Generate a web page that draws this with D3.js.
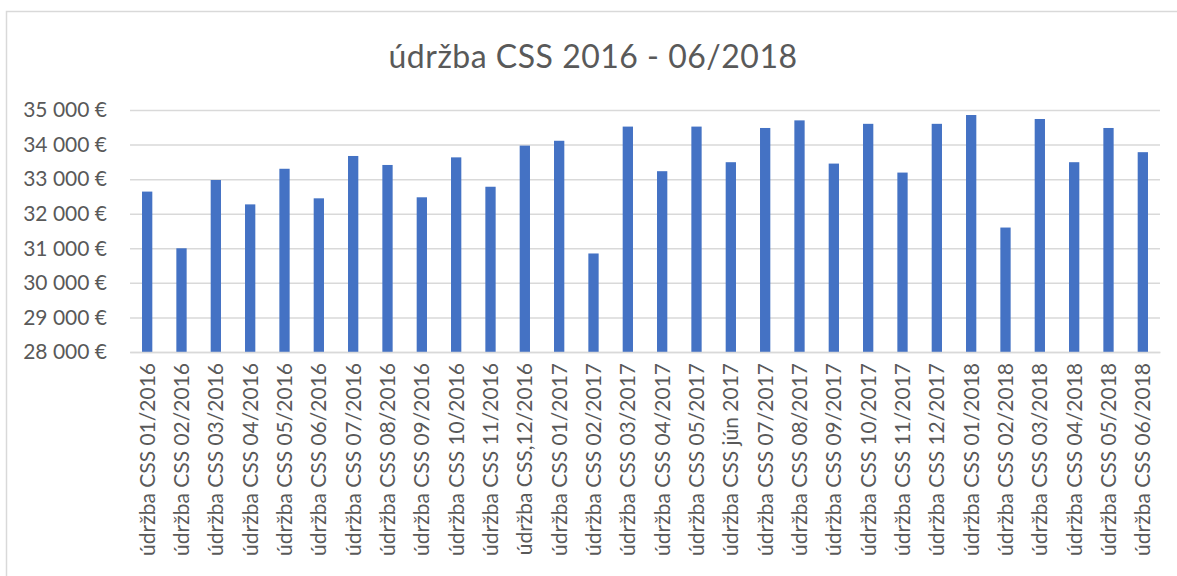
<!DOCTYPE html>
<html>
<head>
<meta charset="utf-8">
<script src="https://cdn.jsdelivr.net/npm/d3@7"></script>
<style>
  html, body { margin: 0; padding: 0; background: #ffffff; }
  svg { display: block; }
  text { font-family: Lato, "Open Sans", sans-serif; fill: #595959; }
</style>
</head>
<body>
<svg id="chart" width="1177" height="576"></svg>
<script>
const title = "údržba CSS 2016 - 06/2018";

const categories = [
  "údržba CSS 01/2016", "údržba CSS 02/2016", "údržba CSS 03/2016", "údržba CSS 04/2016",
  "údržba CSS 05/2016", "údržba CSS 06/2016", "údržba CSS 07/2016", "údržba CSS 08/2016",
  "údržba CSS 09/2016", "údržba CSS 10/2016", "údržba CSS 11/2016", "údržba CSS,12/2016",
  "údržba CSS 01/2017", "údržba CSS 02/2017", "údržba CSS 03/2017", "údržba CSS 04/2017",
  "údržba CSS 05/2017", "údržba CSS jún 2017", "údržba CSS 07/2017", "údržba CSS 08/2017",
  "údržba CSS 09/2017", "údržba CSS 10/2017", "údržba CSS 11/2017", "údržba CSS 12/2017",
  "údržba CSS 01/2018", "údržba CSS 02/2018", "údržba CSS 03/2018", "údržba CSS 04/2018",
  "údržba CSS 05/2018", "údržba CSS 06/2018"
];

const values = [
  32640, 31000, 32975, 32270, 33300, 32445, 33670, 33410,
  32475, 33630, 32780, 33970, 34110, 30850, 34520, 33230,
  34520, 33490, 34480, 34700, 33450, 34600, 33190, 34600,
  34855, 31600, 34740, 33490, 34480, 33780
];

const yTicks = [28000, 29000, 30000, 31000, 32000, 33000, 34000, 35000];
const yDomain = [28000, 35000];

const svg = d3.select("#chart");
const W = 1177, H = 576;
const plot = { left: 130, right: 1160, top: 110, bottom: 352 };

// chart border
svg.append("rect")
  .attr("x", 6.5).attr("y", 11.5)
  .attr("width", W + 20).attr("height", H + 20)
  .attr("fill", "none").attr("stroke", "#d9d9d9").attr("stroke-width", 1.5);

// title
svg.append("text")
  .attr("x", 593)
  .attr("y", 68)
  .attr("text-anchor", "middle")
  .style("font-size", "32px")
  .style("letter-spacing", "0.5px")
  .text(title);

const x = d3.scaleBand()
  .domain(categories)
  .range([plot.left, plot.right])
  .paddingInner(0.7)
  .paddingOuter(0.35);

const y = d3.scaleLinear()
  .domain(yDomain)
  .range([plot.bottom, plot.top]);

const fmt = v => d3.format(",")(v).replace(",", " ") + " €";

// y axis with gridlines
const yAxis = svg.append("g")
  .attr("transform", `translate(${plot.left},0)`)
  .call(d3.axisLeft(y)
    .tickValues(yTicks)
    .tickSize(-(plot.right - plot.left))
    .tickPadding(23)
    .tickFormat(fmt));
yAxis.select(".domain").remove();
yAxis.selectAll(".tick line").attr("stroke", "#d9d9d9").attr("stroke-width", 1.5);
yAxis.selectAll(".tick text")
  .attr("fill", "#595959")
  .style("font-family", "Lato, 'Open Sans', sans-serif")
  .style("font-size", "21px");

// bars
svg.append("g")
  .selectAll("rect")
  .data(values)
  .join("rect")
  .attr("x", (d, i) => x(categories[i]))
  .attr("y", d => y(d))
  .attr("width", x.bandwidth())
  .attr("height", d => y(yDomain[0]) - y(d))
  .attr("fill", "#4472c4");

// x axis
const xAxis = svg.append("g")
  .attr("transform", `translate(0,${plot.bottom})`)
  .call(d3.axisBottom(x).tickSize(0).tickPadding(0));
xAxis.select(".domain").attr("stroke", "#d9d9d9").attr("stroke-width", 1.5);
xAxis.selectAll(".tick text")
  .attr("fill", "#595959")
  .style("font-family", "Lato, 'Open Sans', sans-serif")
  .style("font-size", "21px")
  .attr("text-anchor", "end")
  .attr("transform", "rotate(-90)")
  .attr("x", -11)
  .attr("y", 0)
  .attr("dy", "0.35em");
</script>
</body>
</html>
